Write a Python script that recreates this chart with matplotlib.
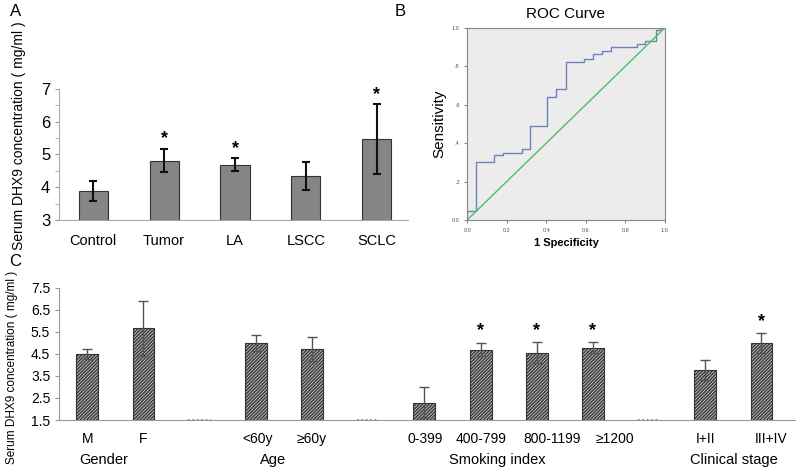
import numpy as np
import matplotlib.pyplot as plt

plt.rcParams['font.family'] = ['Liberation Sans', 'DejaVu Sans']
plt.rcParams['hatch.linewidth'] = 0.9
plt.rcParams['hatch.color'] = '#333333'

# Panel A data
groups_a = ['Control', 'Tumor', 'LA', 'LSCC', 'SCLC']
mean_a = [3.89, 4.81, 4.68, 4.34, 5.46]
err_a = [0.30, 0.36, 0.20, 0.42, 1.07]
star_a = [False, True, True, False, True]

# Panel B data (ROC steps)
roc_fpr = [0.0, 0.0, 0.047, 0.047, 0.137, 0.137, 0.182, 0.182, 0.275, 0.275, 0.32, 0.32,
           0.406, 0.406, 0.449, 0.449, 0.50, 0.50, 0.59, 0.59, 0.637, 0.637, 0.68, 0.68,
           0.727, 0.727, 0.86, 0.86, 0.90, 0.90, 0.953, 0.953, 0.975, 0.975, 1.0]
roc_tpr = [0.0, 0.047, 0.047, 0.304, 0.304, 0.336, 0.336, 0.351, 0.351, 0.367, 0.367, 0.489,
           0.489, 0.64, 0.64, 0.683, 0.683, 0.823, 0.823, 0.838, 0.838, 0.866, 0.866, 0.882,
           0.882, 0.90, 0.90, 0.917, 0.917, 0.93, 0.93, 0.988, 0.988, 1.0, 1.0]

# Panel C data (None = empty separator slot)
labels_c = ['M', 'F', '', '<60y', '≥60y', '', '0-399', '400-799', '800-1199', '≥1200', '', 'I+II', 'III+IV']
mean_c = [4.49, 5.66, None, 4.98, 4.72, None, 2.29, 4.69, 4.55, 4.77, None, 3.77, 4.98]
err_c = [0.22, 1.25, None, 0.35, 0.53, None, 0.72, 0.30, 0.47, 0.25, None, 0.47, 0.44]
star_c = [False, False, False, False, False, False, False, True, True, True, False, False, True]
label_shift = [0, 0, 0, 0.03, 0, 0, 0.02, 0, 0.28, 0.39, 0, 0, 0.18]
group_names = ['Gender', 'Age', 'Smoking index', 'Clinical stage']
group_pos = [0.3, 3.3, 7.3, 11.5]

fig = plt.figure(figsize=(8, 4.73), dpi=100)
ylab = 'Serum DHX9 concentration ( mg/ml )'
narrow = ['Liberation Sans Narrow', 'Liberation Sans', 'DejaVu Sans']

# ---- A
ax1 = fig.add_axes([0.074, 0.535, 0.436, 0.277])
xa = np.arange(len(groups_a))
ax1.bar(xa, [m - 3 for m in mean_a], bottom=3, width=0.41, color='#858585',
        edgecolor='#333333', linewidth=0.8)
ax1.errorbar(xa, mean_a, yerr=err_a, fmt='none', ecolor='#111111', elinewidth=1.5,
             capsize=3, capthick=1.5)
for i in range(len(xa)):
    if star_a[i]:
        ax1.text(xa[i], mean_a[i] + err_a[i] + 0.3, '*', ha='center', va='center',
                 fontsize=13, fontweight='bold')
ax1.set_xlim(-0.48, 4.44)
ax1.set_ylim(3, 7)
ax1.set_yticks([3, 4, 5, 6, 7])
ax1.set_yticks([3.5, 4.5, 5.5, 6.5], minor=True)
ax1.set_xticks(xa)
ax1.set_xticklabels(groups_a, fontsize=10.5)
ax1.tick_params(axis='x', length=0, pad=10)
ax1.tick_params(axis='y', labelsize=12, color='#999999', length=3)
ax1.tick_params(axis='y', which='minor', color='#999999', length=3)
for s in ['top', 'right']:
    ax1.spines[s].set_visible(False)
ax1.spines['left'].set_color('#aaaaaa')
ax1.spines['bottom'].set_color('#aaaaaa')
ax1.set_ylabel(ylab, fontsize=10, family=narrow)
ax1.yaxis.set_label_coords(-0.095, 0.64)

# ---- B
ax2 = fig.add_axes([0.584, 0.535, 0.247, 0.406])
ax2.set_facecolor('#ececec')
ax2.plot(roc_fpr, roc_tpr, color='#6f7fbf', linewidth=1)
ax2.plot([0, 1], [0, 1], color='#4cc060', linewidth=1)
ax2.set_xlim(0, 1)
ax2.set_ylim(0, 1)
ax2.set_xticks([0, 0.2, 0.4, 0.6, 0.8, 1.0])
ax2.set_xticklabels(['0.0', '0.2', '0.4', '0.6', '0.8', '1.0'])
ax2.set_yticks([0, 0.2, 0.4, 0.6, 0.8, 1.0])
ax2.set_yticklabels(['0.0', '.2', '.4', '.6', '.8', '1.0'])
ax2.tick_params(labelsize=4, length=2, color='#888888', labelcolor='#555555')
for s in ax2.spines.values():
    s.set_color('#888888')
ax2.set_title('ROC Curve', fontsize=11, pad=7)
ax2.set_ylabel('Sensitivity', fontsize=11, labelpad=4)
ax2.set_xlabel('1 Specificity', fontsize=8, fontweight='bold', labelpad=4)

# ---- C
ax3 = fig.add_axes([0.074, 0.112, 0.92, 0.28])
xc = np.arange(len(labels_c))
for i in range(len(xc)):
    if mean_c[i] is None:
        ax3.plot([xc[i] - 0.2, xc[i] + 0.2], [1.5, 1.5], color='#666666',
                 linestyle=':', linewidth=1.2, clip_on=False)
        continue
    ax3.bar(xc[i], mean_c[i] - 1.5, bottom=1.5, width=0.39, color='#b0b0b0',
            edgecolor='#333333', hatch='//////////', linewidth=0.8)
    ax3.errorbar(xc[i], mean_c[i], yerr=err_c[i], fmt='none', ecolor='#555555',
                 elinewidth=1, capsize=3.5, capthick=1)
    if star_c[i]:
        ax3.text(xc[i], mean_c[i] + err_c[i] + 0.55, '*', ha='center', va='center',
                 fontsize=13, fontweight='bold')
ax3.set_xlim(-0.5, 12.6)
ax3.set_ylim(1.5, 7.5)
ax3.set_yticks([1.5, 2.5, 3.5, 4.5, 5.5, 6.5, 7.5])
ax3.set_yticklabels(['1.5', '2.5', '3.5', '4.5', '5.5', '6.5', '7.5'])
ax3.set_xticks([])
for i in range(len(xc)):
    ax3.text(xc[i] + label_shift[i], -0.14, labels_c[i], transform=ax3.get_xaxis_transform(),
             ha='center', va='center', fontsize=10)
ax3.tick_params(axis='y', labelsize=10, length=3, color='#999999')
for s in ['top', 'right']:
    ax3.spines[s].set_visible(False)
ax3.spines['left'].set_color('#999999')
ax3.spines['bottom'].set_color('#999999')
ax3.set_ylabel(ylab, fontsize=8.5, family=narrow)
ax3.yaxis.set_label_coords(-0.056, 0.40)
for name, pos in zip(group_names, group_pos):
    ax3.text(pos, -0.3, name, transform=ax3.get_xaxis_transform(), ha='center',
             va='center', fontsize=10.5)

fig.text(0.012, 0.975, 'A', fontsize=12, va='center')
fig.text(0.493, 0.975, 'B', fontsize=12, va='center')
fig.text(0.012, 0.447, 'C', fontsize=12, va='center')

fig.savefig('out.png', dpi=100)
